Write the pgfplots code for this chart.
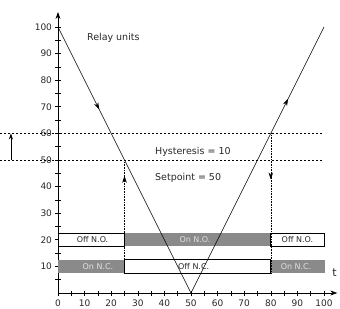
\documentclass[border=0pt]{standalone}
\usepackage{fontspec}
\setmainfont{DejaVu Sans}
\usepackage{pgfplots}
\pgfplotsset{compat=1.18}
\usetikzlibrary{arrows.meta,decorations.markings}
\definecolor{bargray}{RGB}{138,138,138}
\definecolor{txt}{RGB}{40,40,40}
\tikzset{midarrow/.style={postaction={decorate},decoration={markings,mark=at position #1 with {\arrow{Stealth[length=7pt,width=4.5pt]}}}}}
\begin{document}
\begin{tikzpicture}
\useasboundingbox (-58pt,-15pt) rectangle (282pt,293pt);
\begin{axis}[
 at={(0,0)}, anchor=origin,
 x=2.66pt, y=2.66pt,
 xmin=0,xmax=105,ymin=0,ymax=105.6,
 axis lines=left,
 axis line style={line width=0.7pt,-{Stealth[length=7pt,width=5pt]}},
 clip=false,
 xtick={0,10,...,100}, ytick={10,20,...,100},
 minor xtick={5,15,...,95}, minor ytick={5,15,...,95},
 tick align=center, major tick length=5pt, minor tick length=5pt,
 tick style={black, line width=0.6pt},
 tick label style={font=\fontsize{9}{10}\selectfont, text=txt},
 /pgf/number format/assume math mode=true,
 xticklabel style={yshift=-1pt},
]
% bars
\addplot[draw=black, fill=white, line width=0.7pt] coordinates {(0,17.5)(25,17.5)(25,22.5)(0,22.5)} -- cycle;
\addplot[draw=none, fill=bargray] coordinates {(25,17.5)(80,17.5)(80,22.5)(25,22.5)} -- cycle;
\addplot[draw=black, fill=white, line width=0.7pt] coordinates {(80,17.5)(100,17.5)(100,22.5)(80,22.5)} -- cycle;
\addplot[draw=none, fill=bargray] coordinates {(0,7.5)(25,7.5)(25,12.5)(0,12.5)} -- cycle;
\addplot[draw=black, fill=white, line width=0.7pt] coordinates {(25,7.5)(80,7.5)(80,12.5)(25,12.5)} -- cycle;
\addplot[draw=none, fill=bargray] coordinates {(80,7.5)(100.5,7.5)(100.5,12.5)(80,12.5)} -- cycle;
\node[font=\fontsize{8}{9}\selectfont, text=txt] at (axis cs:13,20) {Off N.O.};
\node[font=\fontsize{8}{9}\selectfont, text=black!12] at (axis cs:51.5,20) {On N.O.};
\node[font=\fontsize{8}{9}\selectfont, text=txt] at (axis cs:90,20) {Off N.O.};
\node[font=\fontsize{8}{9}\selectfont, text=black!12] at (axis cs:15,10) {On N.C.};
\node[font=\fontsize{8}{9}\selectfont, text=txt] at (axis cs:51,10) {Off N.C.};
\node[font=\fontsize{8}{9}\selectfont, text=black!12] at (axis cs:89.5,10) {On N.C.};
% dashed thresholds
\addplot[black, line width=0.5pt, dash pattern=on 2pt off 2pt] coordinates {(-21.8,60)(100,60)};
\addplot[black, line width=0.5pt, dash pattern=on 2pt off 2pt] coordinates {(-21.8,50)(100,50)};
% hysteresis arrow
\addplot[black, line width=0.6pt, -{Stealth[length=6pt,width=4pt]}] coordinates {(-17.7,50)(-17.7,60)};
% dotted verticals
\addplot[black, line width=0.6pt, densely dotted, midarrow=0.86] coordinates {(25,7.5)(25,50)};
\addplot[black, line width=0.6pt, densely dotted, midarrow=0.33] coordinates {(80,60)(80,7.5)};
% V lines
\addplot[black, line width=0.6pt, midarrow=0.31] coordinates {(0,100)(50,0)};
\addplot[black, line width=0.6pt, midarrow=0.73] coordinates {(50,0)(100,100)};
% texts
\node[font=\fontsize{9.5}{11}\selectfont, text=txt] at (axis cs:20.8,95.9) {Relay units};
\node[font=\fontsize{9.5}{11}\selectfont, text=txt, anchor=west] at (axis cs:35.2,53) {Hysteresis = 10};
\node[font=\fontsize{9.5}{11}\selectfont, text=txt, anchor=west] at (axis cs:35.2,43.2) {Setpoint = 50};
\node[font=\fontsize{11}{12}\selectfont, text=txt] at (axis cs:104,7.8) {t};
\end{axis}
\end{tikzpicture}
\end{document}
